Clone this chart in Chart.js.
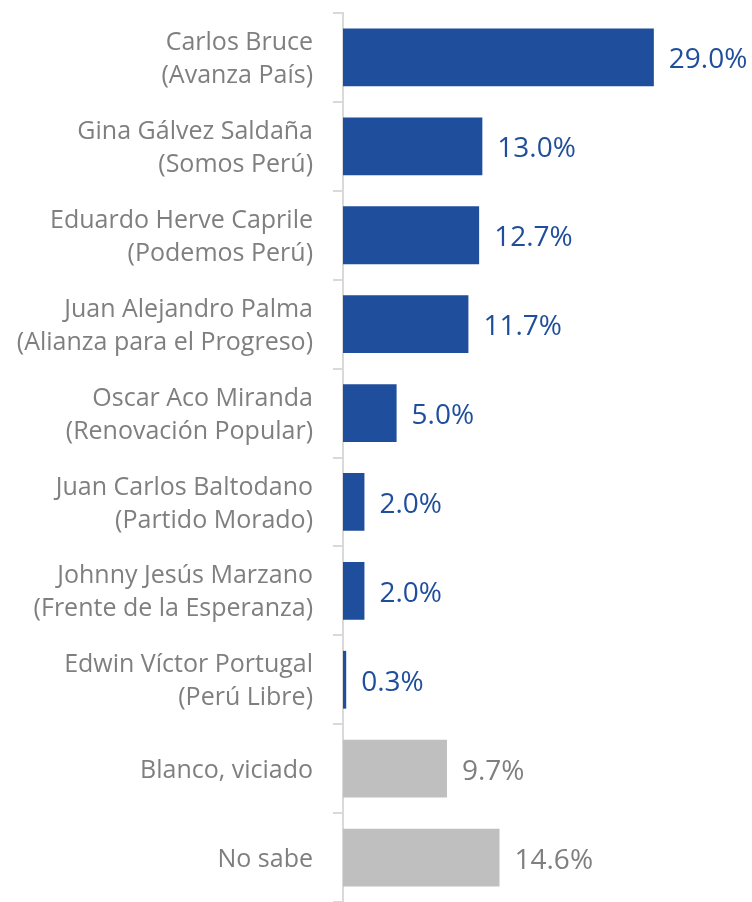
<!DOCTYPE html>
<html>
<head>
<meta charset="utf-8">
<script src="https://cdn.jsdelivr.net/npm/chart.js@4.4.1/dist/chart.umd.min.js"></script>
<style>
    html, body { margin: 0; padding: 0; background: #fff; }
    #wrap { width: 752px; height: 902px; }
</style>
</head>
<body>
<div id="wrap"><canvas id="myChart"></canvas></div>
<script>
// #region data
const candidates = [
    ['Carlos Bruce', '(Avanza País)'],
    ['Gina Gálvez Saldaña', '(Somos Perú)'],
    ['Eduardo Herve Caprile', '(Podemos Perú)'],
    ['Juan Alejandro Palma', '(Alianza para el Progreso)'],
    ['Oscar Aco Miranda', '(Renovación Popular)'],
    ['Juan Carlos Baltodano', '(Partido Morado)'],
    ['Johnny Jesús Marzano', '(Frente de la Esperanza)'],
    ['Edwin Víctor Portugal', '(Perú Libre)'],
    'Blanco, viciado',
    'No sabe'
];
const votes = [29.0, 13.0, 12.7, 11.7, 5.0, 2.0, 2.0, 0.3, 9.7, 14.6];
const isCandidate = [true, true, true, true, true, true, true, true, false, false];
// #endregion data

const
    blue = '#1f4e9c',
    grey = '#bfbfbf',
    textGrey = '#7f7f7f',
    axisGrey = '#d9d9d9',
    fontFamily = '"Open Sans", Lato, sans-serif';

const valueLabels = {
    id: 'valueLabels',
    afterDatasetsDraw(chart) {
        const ctx = chart.ctx;
        const meta = chart.getDatasetMeta(0);
        ctx.save();
        ctx.font = '28px ' + fontFamily;
        ctx.textBaseline = 'middle';
        ctx.textAlign = 'left';
        meta.data.forEach((bar, i) => {
            ctx.fillStyle = isCandidate[i] ? blue : textGrey;
            ctx.fillText(votes[i].toFixed(1) + '%', bar.x + 15, bar.y + 3);
        });
        ctx.restore();
    }
};

const ctx = document.querySelector('#myChart').getContext('2d');

new Chart(ctx, {
    type: 'bar',
    data: {
        labels: candidates,
        datasets: [{
            data: votes,
            backgroundColor: isCandidate.map(c => c ? blue : grey),
            borderWidth: 0,
            categoryPercentage: 0.65,
            barPercentage: 1
        }]
    },
    options: {
        indexAxis: 'y',
        responsive: true,
        maintainAspectRatio: false,
        animation: false,
        layout: { padding: { top: 13, right: 66, bottom: 0, left: 0 } },
        plugins: {
            legend: { display: false },
            tooltip: { enabled: false }
        },
        scales: {
            x: {
                display: false,
                min: 0,
                max: 32
            },
            y: {
                afterFit(scale) {
                    scale.width = 343;
                    scale.paddingTop = 0;
                    scale.paddingBottom = 0;
                },
                grid: {
                    offset: true,
                    drawOnChartArea: false,
                    drawTicks: true,
                    tickLength: 10,
                    color: axisGrey,
                    lineWidth: 2
                },
                border: { display: true, color: axisGrey, width: 2 },
                ticks: {
                    color: textGrey,
                    padding: 20,
                    labelOffset: 2,
                    font: { family: fontFamily, size: 25, lineHeight: 1.32 }
                }
            }
        }
    },
    plugins: [valueLabels]
});
</script>
</body>
</html>
